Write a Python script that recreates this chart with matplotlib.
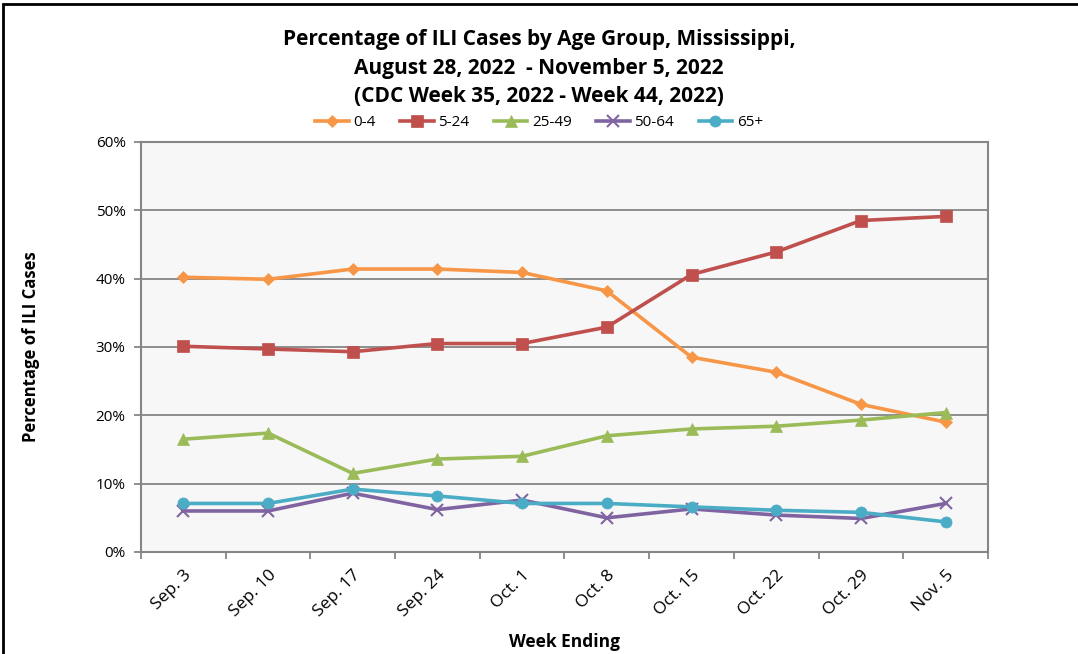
import matplotlib
matplotlib.use('Agg')
import matplotlib.pyplot as plt
from matplotlib.patches import Rectangle
from matplotlib.ticker import FuncFormatter, MultipleLocator

plt.rcParams['font.family'] = ['Open Sans', 'DejaVu Sans']

# ---- data ----
weeks = ['Sep. 3', 'Sep. 10', 'Sep. 17', 'Sep. 24', 'Oct. 1',
         'Oct. 8', 'Oct. 15', 'Oct. 22', 'Oct. 29', 'Nov. 5']
age_0_4 = [40.2, 39.9, 41.4, 41.4, 40.9, 38.2, 28.5, 26.3, 21.6, 19.0]
age_5_24 = [30.1, 29.7, 29.3, 30.5, 30.5, 32.9, 40.6, 43.9, 48.5, 49.1]
age_25_49 = [16.5, 17.4, 11.5, 13.6, 14.0, 17.0, 18.0, 18.4, 19.3, 20.4]
age_50_64 = [6.0, 6.0, 8.6, 6.2, 7.6, 5.0, 6.3, 5.4, 4.9, 7.1]
age_65p = [7.1, 7.1, 9.2, 8.2, 7.1, 7.1, 6.6, 6.1, 5.8, 4.4]

series = [
    ('0-4', age_0_4, '#F79646', 'D', 6),
    ('5-24', age_5_24, '#C0504D', 's', 8),
    ('25-49', age_25_49, '#9BBB59', '^', 8),
    ('50-64', age_50_64, '#8064A2', 'x', 8),
    ('65+', age_65p, '#4BACC6', 'o', 8),
]

fig = plt.figure(figsize=(10.78, 6.54), dpi=100)
ax = fig.add_axes([0.1308, 0.156, 0.7857, 0.627])
ax.set_facecolor('#F7F7F7')

x = list(range(len(weeks)))
for name, vals, col, mk, ms in series:
    ax.plot(x, vals, color=col, lw=2.6, marker=mk, markersize=ms,
            markeredgewidth=1.5 if mk == 'x' else 0.5, markeredgecolor=col,
            label=name, zorder=3)

ax.set_xlim(-0.5, len(weeks) - 0.5)
ax.set_ylim(0, 60)
ax.yaxis.set_major_locator(MultipleLocator(10))
ax.yaxis.set_major_formatter(FuncFormatter(lambda v, p: f'{v:.0f}%'))
ax.grid(axis='y', color='#868686', lw=1.3, zorder=1)

ax.set_xticks(x)
ax.set_xticklabels(weeks, rotation=45, ha='right', rotation_mode='anchor', fontsize=12.5)
ax.set_xticks([i - 0.5 for i in range(len(weeks) + 1)], minor=True)
ax.tick_params(axis='x', which='major', length=0, pad=11)
ax.tick_params(axis='x', which='minor', length=5, color='#868686', width=1.3)
ax.tick_params(axis='y', length=5, color='#868686', width=1.3, labelsize=11, pad=6)

for s in ax.spines.values():
    s.set_color('#868686')
    s.set_linewidth(1.5)

ax.set_ylabel('Percentage of ILI Cases', fontsize=12, fontweight='bold', labelpad=40)
ax.set_xlabel('Week Ending', fontsize=12.5, fontweight='bold', labelpad=9)

fig.text(0.5, 0.940, 'Percentage of ILI Cases by Age Group, Mississippi,',
         ha='center', va='center', fontsize=15, fontweight='bold')
fig.text(0.5, 0.896, 'August 28, 2022  - November 5, 2022',
         ha='center', va='center', fontsize=15, fontweight='bold')
fig.text(0.5, 0.852, '(CDC Week 35, 2022 - Week 44, 2022)',
         ha='center', va='center', fontsize=15, fontweight='bold')

fig.legend(loc='center', bbox_to_anchor=(0.5, 0.812), ncol=5, frameon=False,
           fontsize=11, handlelength=2.2, columnspacing=1.6, handletextpad=0.3)

# outer chart border (right and bottom edges fall outside the picture)
fig.patches.append(Rectangle((0.003, -0.05), 1.05, 1.044, transform=fig.transFigure,
                             fill=False, edgecolor='black', lw=2))

fig.savefig('out.png', dpi=100)
